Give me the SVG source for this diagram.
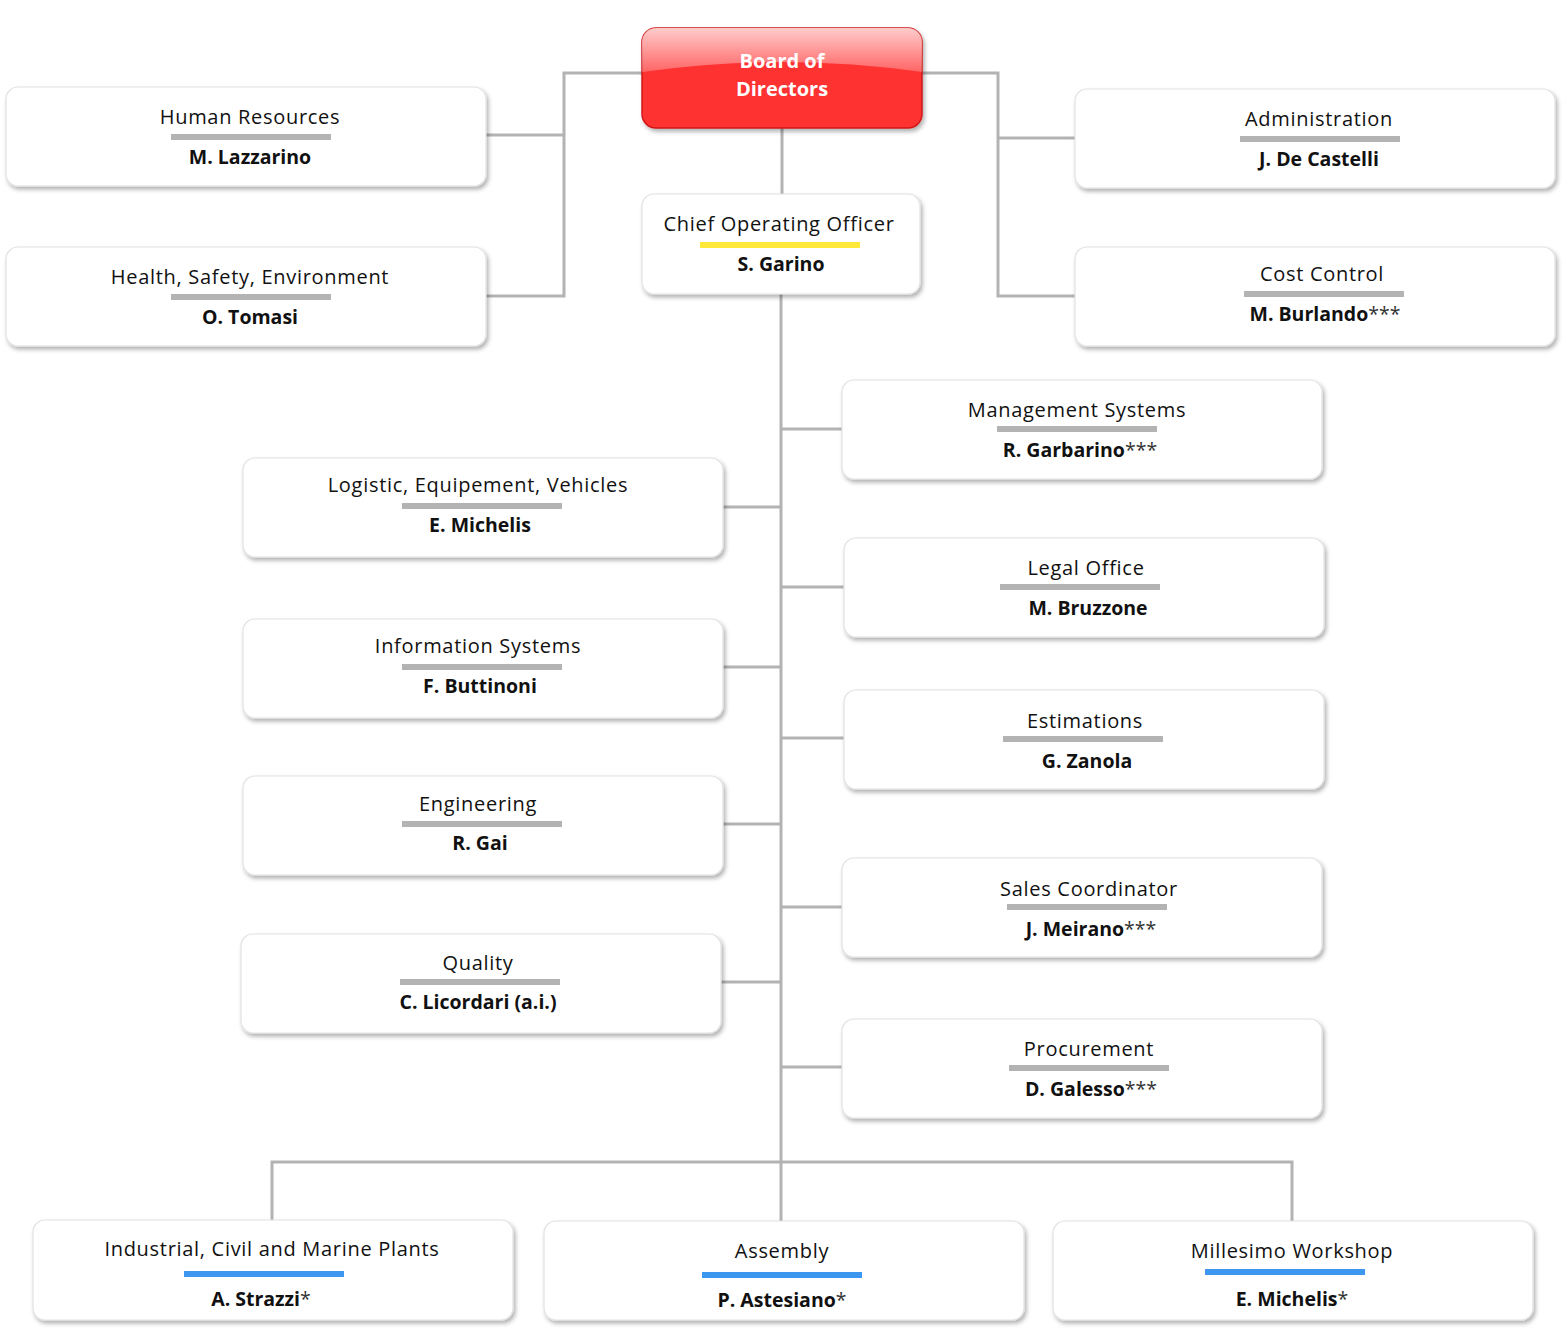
<svg xmlns="http://www.w3.org/2000/svg" width="1564" height="1329" viewBox="0 0 1564 1329">
<defs>
<filter id="sh" x="-5%" y="-10%" width="110%" height="125%">
<feDropShadow dx="2" dy="3" stdDeviation="2" flood-color="#000" flood-opacity="0.3"/>
</filter>
<linearGradient id="gloss" x1="0" y1="0" x2="0" y2="1">
<stop offset="0" stop-color="#ffffff" stop-opacity="0.75"/>
<stop offset="1" stop-color="#ffffff" stop-opacity="0.25"/>
</linearGradient>
<clipPath id="bclip"><rect x="642" y="28" width="280" height="100" rx="14"/></clipPath>
</defs>
<style>
.box{fill:#fff;stroke:#e2e2e2;stroke-width:1.2;filter:url(#sh)}
.t{font-family:"Open Sans","Liberation Sans",sans-serif;font-size:20px;letter-spacing:0.7px;fill:#111;text-anchor:middle}
.n{font-family:"Open Sans","Liberation Sans",sans-serif;font-size:19.5px;font-weight:bold;fill:#111;text-anchor:middle}
.a{font-weight:normal;fill:#333}
.bar{fill:#b3b3b3}
.yb{fill:#ffe83a}
.bb{fill:#3d97f0}
.c{fill:none;stroke:#b3b3b3;stroke-width:3}
.w{font-family:"Open Sans","Liberation Sans",sans-serif;font-size:20px;font-weight:bold;fill:#fff;text-anchor:middle}
</style>
<g id="connectors">
<path class="c" d="M642 73H564V296H486M564 135H486"/>
<path class="c" d="M922 73H998V296H1075M998 138H1075"/>
<path class="c" d="M782 128V194"/>
<path class="c" d="M781 294V1162"/>
<path class="c" d="M781 429H842M781 587H844M781 738H844M781 907H842M781 1067H842"/>
<path class="c" d="M723 507H781M723 667H781M723 824H781M721 982H781"/>
<path class="c" d="M272 1220V1162H1292V1221M781 1162V1221"/>
</g>
<g id="board">
<rect x="642" y="28" width="280" height="100" rx="14" fill="#ff3333" stroke="#d01818" stroke-width="1.5" filter="url(#sh)"/>
<path d="M642 28H922V72Q782 52 642 72Z" fill="url(#gloss)" clip-path="url(#bclip)"/>
<text class="w" x="782" y="68">Board of</text>
<text class="w" x="782" y="96">Directors</text>
</g>
<g id="hr">
<rect class="box" x="6" y="87" width="480" height="99" rx="12"/>
<text class="t" x="250" y="124">Human Resources</text>
<rect class="bar" x="171" y="134" width="160" height="6"/>
<text class="n" x="250" y="164">M. Lazzarino</text>
</g>
<g id="hse">
<rect class="box" x="6" y="247" width="480" height="99" rx="12"/>
<text class="t" x="250" y="284">Health, Safety, Environment</text>
<rect class="bar" x="171" y="294" width="160" height="6"/>
<text class="n" x="250" y="324">O. Tomasi</text>
</g>
<g id="coo">
<rect class="box" x="642" y="194" width="278" height="100" rx="12"/>
<text class="t" x="779" y="231">Chief Operating Officer</text>
<rect class="yb" x="700" y="242" width="160" height="6"/>
<text class="n" x="781" y="271">S. Garino</text>
</g>
<g id="admin">
<rect class="box" x="1075" y="89" width="480" height="99" rx="12"/>
<text class="t" x="1319" y="126">Administration</text>
<rect class="bar" x="1240" y="136" width="160" height="6"/>
<text class="n" x="1319" y="166">J. De Castelli</text>
</g>
<g id="cost">
<rect class="box" x="1075" y="247" width="480" height="99" rx="12"/>
<text class="t" x="1322" y="281">Cost Control</text>
<rect class="bar" x="1244" y="291" width="160" height="6"/>
<text class="n" x="1325" y="321">M. Burlando<tspan class="a">***</tspan></text>
</g>
<g id="mgmt">
<rect class="box" x="842" y="380" width="480" height="99" rx="12"/>
<text class="t" x="1077" y="417">Management Systems</text>
<rect class="bar" x="997" y="426" width="160" height="6"/>
<text class="n" x="1080" y="457">R. Garbarino<tspan class="a">***</tspan></text>
</g>
<g id="logistic">
<rect class="box" x="243" y="458" width="480" height="99" rx="12"/>
<text class="t" x="478" y="492">Logistic, Equipement, Vehicles</text>
<rect class="bar" x="402" y="503" width="160" height="6"/>
<text class="n" x="480" y="532">E. Michelis</text>
</g>
<g id="legal">
<rect class="box" x="844" y="538" width="480" height="99" rx="12"/>
<text class="t" x="1086" y="575">Legal Office</text>
<rect class="bar" x="1000" y="584" width="160" height="6"/>
<text class="n" x="1088" y="615">M. Bruzzone</text>
</g>
<g id="infosys">
<rect class="box" x="243" y="619" width="480" height="99" rx="12"/>
<text class="t" x="478" y="653">Information Systems</text>
<rect class="bar" x="402" y="664" width="160" height="6"/>
<text class="n" x="480" y="693">F. Buttinoni</text>
</g>
<g id="estimations">
<rect class="box" x="844" y="690" width="480" height="99" rx="12"/>
<text class="t" x="1085" y="728">Estimations</text>
<rect class="bar" x="1003" y="736" width="160" height="6"/>
<text class="n" x="1087" y="768">G. Zanola</text>
</g>
<g id="engineering">
<rect class="box" x="243" y="776" width="480" height="99" rx="12"/>
<text class="t" x="478" y="811">Engineering</text>
<rect class="bar" x="402" y="821" width="160" height="6"/>
<text class="n" x="480" y="850">R. Gai</text>
</g>
<g id="sales">
<rect class="box" x="842" y="858" width="480" height="99" rx="12"/>
<text class="t" x="1089" y="896">Sales Coordinator</text>
<rect class="bar" x="1007" y="904" width="160" height="6"/>
<text class="n" x="1091" y="936">J. Meirano<tspan class="a">***</tspan></text>
</g>
<g id="quality">
<rect class="box" x="241" y="934" width="480" height="99" rx="12"/>
<text class="t" x="478" y="970">Quality</text>
<rect class="bar" x="400" y="979" width="160" height="6"/>
<text class="n" x="478" y="1009">C. Licordari (a.i.)</text>
</g>
<g id="procurement">
<rect class="box" x="842" y="1019" width="480" height="99" rx="12"/>
<text class="t" x="1089" y="1056">Procurement</text>
<rect class="bar" x="1009" y="1065" width="160" height="6"/>
<text class="n" x="1091" y="1096">D. Galesso<tspan class="a">***</tspan></text>
</g>
<g id="industrial">
<rect class="box" x="33" y="1220" width="480" height="100" rx="12"/>
<text class="t" x="272" y="1256">Industrial, Civil and Marine Plants</text>
<rect class="bb" x="184" y="1271" width="160" height="6"/>
<text class="n" x="261" y="1306">A. Strazzi<tspan class="a">*</tspan></text>
</g>
<g id="assembly">
<rect class="box" x="544" y="1221" width="480" height="99" rx="12"/>
<text class="t" x="782" y="1258">Assembly</text>
<rect class="bb" x="702" y="1272" width="160" height="6"/>
<text class="n" x="782" y="1307">P. Astesiano<tspan class="a">*</tspan></text>
</g>
<g id="millesimo">
<rect class="box" x="1053" y="1221" width="480" height="99" rx="12"/>
<text class="t" x="1292" y="1258">Millesimo Workshop</text>
<rect class="bb" x="1205" y="1269" width="160" height="6"/>
<text class="n" x="1292" y="1306">E. Michelis<tspan class="a">*</tspan></text>
</g>
</svg>
